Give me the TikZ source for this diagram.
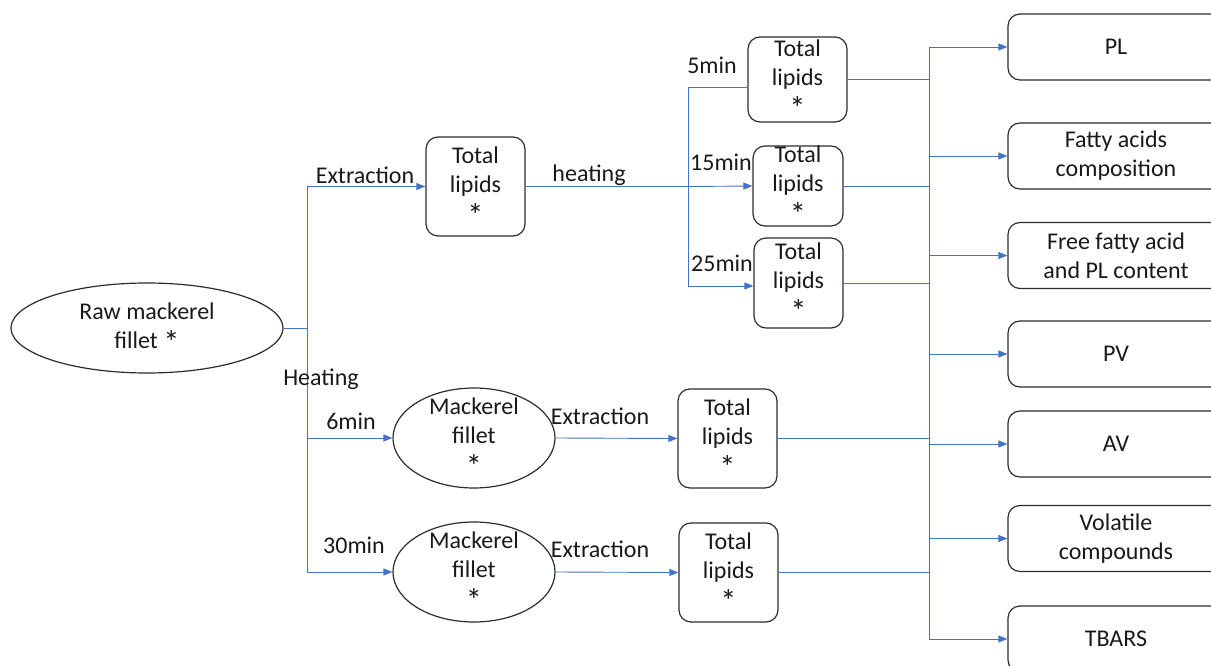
\documentclass[tikz,border=0pt]{standalone}
\usepackage{fontspec}
\usepackage{graphicx}
\setmainfont{Carlito}
\usetikzlibrary{arrows.meta,shapes.geometric}
\definecolor{linkblue}{RGB}{68,114,196}
\definecolor{edgegray}{RGB}{45,45,45}
% a larger asterisk, as in the Calibri glyph
\newcommand\mkstar{\raisebox{-5pt}{\scalebox{1.35}{*}}}
\begin{document}
\begin{tikzpicture}[x=1pt,y=-1pt,
  every node/.style={font=\fontsize{24}{29}\selectfont, text=black!90},
  link/.style={draw=linkblue, line width=0.9pt},
  arr/.style={link, -{Triangle[length=9pt,width=7pt]}},
  frame/.style={draw=edgegray, line width=1.2pt, inner sep=0pt},
  box/.style={frame, rounded corners=12pt},
  oval/.style={frame, ellipse},
  inside/.style={label={[align=center, inner sep=0pt]center:#1}},
  lipids/.style={box, inside={Total\\lipids\\\mkstar}},
  fillet/.style={oval, minimum width=162pt, minimum height=100pt, inside={Mackerel\\fillet\\\mkstar}},
  result/.style={box, minimum width=216pt, minimum height=66pt, align=center},
  lbl/.style={inner sep=0pt}]

\useasboundingbox (0,0) rectangle (1211,666);
\clip (0,0) rectangle (1211,666);

% source sample
\node[oval, minimum width=272pt, minimum height=90pt, inside={Raw mackerel\\fillet \mkstar}] (raw) at (147,328) {};

% first split: extraction vs heating
\node[lipids, minimum width=99pt, minimum height=99pt] (tl) at (475.5,186.5) {};
\node[fillet] (mf6) at (474,438) {};
\node[fillet] (mf30) at (474,572) {};
\node[lipids, minimum width=99pt, minimum height=99pt] (tl6) at (727.5,438.5) {};
\node[lipids, minimum width=99pt, minimum height=99pt] (tl30) at (728.5,572.5) {};

% heated lipid extracts
\node[lipids, minimum width=99pt, minimum height=85pt] (h5) at (797.5,79.5) {};
\node[lipids, minimum width=90pt, minimum height=80pt] (h15) at (798,186) {};
\node[lipids, minimum width=89pt, minimum height=90pt] (h25) at (798.5,283) {};

% analyses
\node[result] (pl) at (1116,47) {PL};
\node[result] (fa) at (1116,156) {Fatty acids\\composition};
\node[result] (ffa) at (1116,255.5) {Free fatty acid\\and PL content};
\node[result] (pv) at (1116,354) {PV};
\node[result] (av) at (1116,444) {AV};
\node[result] (vol) at (1116,538.5) {Volatile\\compounds};
\node[result] (tb) at (1116,639) {TBARS};

% junction points
\coordinate (j1) at (307,328);
\coordinate (j2) at (688,186.5);
\coordinate (j3) at (929,47);
\coordinate (j3b) at (929,639);

% left tree
\draw[link] (raw.east) -- (j1);
\draw[arr] (j1) |- (tl.west);
\draw[arr] (j1) |- (mf6.west);
\draw[arr] (j1) |- (mf30.west);
\draw[arr] (mf6.east) -- (tl6.west);
\draw[arr] (mf30.east) -- (tl30.west);

% heating of the extracted lipids
\draw[link] (tl.east) -- (j2);
\draw[link] (j2) |- ([yshift=-7.5pt]h5.west);
\draw[arr] (j2) -- (h15.west);
\draw[arr] (j2) |- ([yshift=-3pt]h25.west);

% collection bus on the right
\draw[link] (j3) -- (j3b);
\draw[link] (h5.east) -- (h5.east -| j3);
\draw[link] (h15.east) -- (h15.east -| j3);
\draw[link] (h25.east) -- (h25.east -| j3);
\draw[link] (tl6.east) -- (tl6.east -| j3);
\draw[link] (tl30.east) -- (tl30.east -| j3);
\foreach \n in {pl,fa,ffa,pv,av,vol,tb}
  \draw[arr] (\n.west -| j3) -- (\n.west);

% step labels
\node[lbl] (lx1) at (365,175) {Extraction};
\node[lbl] (lh1) at (321,379) {Heating};
\node[lbl] (l6) at (351,421) {6min};
\node[lbl] (l30) at (354,545) {30min};
\node[lbl] (lx2) at (600,416) {Extraction};
\node[lbl] (lx3) at (600,549) {Extraction};
\node[lbl] (lh2) at (589,175) {heating};
\node[lbl] (l5) at (712,65) {5min};
\node[lbl] (l15) at (721,162) {15min};
\node[lbl] (l25) at (722,263) {25min};
\end{tikzpicture}
\end{document}
